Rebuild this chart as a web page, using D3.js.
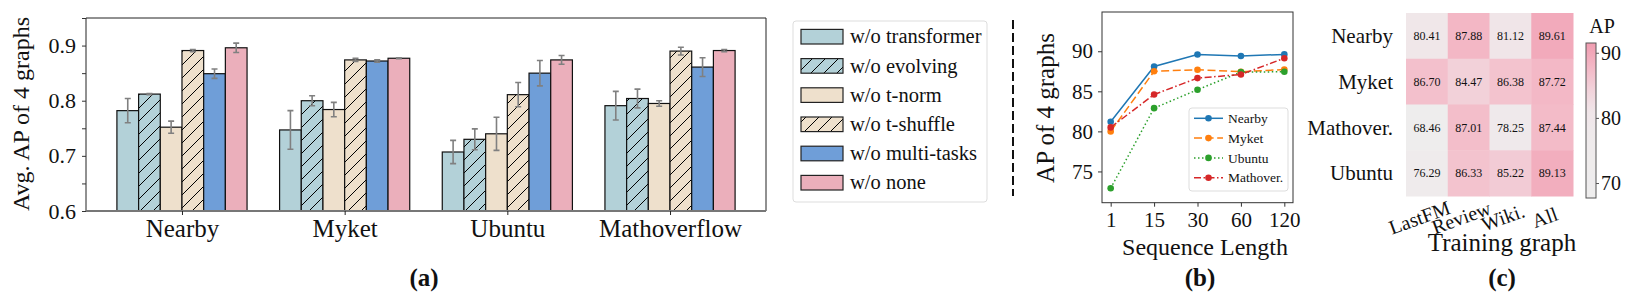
<!DOCTYPE html>
<html>
<head>
<meta charset="utf-8">
<script src="https://cdn.jsdelivr.net/npm/d3@7"></script>
<style>
  body { margin: 0; background: #fff; }
  text { font-family: "Times New Roman", "Liberation Serif", Tinos, serif; fill: #111; }
</style>
</head>
<body>
<svg id="fig" width="1627" height="308"></svg>
<script>
// ---- (a) ablation: avg AP per dataset ----
const datasets = ["Nearby", "Myket", "Ubuntu", "Mathoverflow"];
const variants = ["w/o transformer", "w/o evolving", "w/o t-norm", "w/o t-shuffle", "w/o multi-tasks", "w/o none"];
const apTransformer = [0.782, 0.747, 0.707, 0.791];
const apEvolving    = [0.812, 0.800, 0.730, 0.804];
const apTNorm       = [0.752, 0.784, 0.740, 0.795];
const apTShuffle    = [0.891, 0.874, 0.811, 0.890];
const apMultiTasks  = [0.849, 0.872, 0.850, 0.861];
const apNone        = [0.896, 0.877, 0.874, 0.891];
const errTransformer = [0.022, 0.035, 0.021, 0.026];
const errEvolving    = [0.001, 0.009, 0.019, 0.017];
const errTNorm       = [0.011, 0.013, 0.030, 0.005];
const errTShuffle    = [0.002, 0.003, 0.022, 0.007];
const errMultiTasks  = [0.0085, 0.002, 0.023, 0.017];
const errNone        = [0.0085, 0.001, 0.008, 0.002];
const yTicksA = [0.6, 0.7, 0.8, 0.9];

// ---- (b) sequence length ----
const seqLengths = ["1", "15", "30", "60", "120"];
const seqSeries = ["Nearby", "Myket", "Ubuntu", "Mathover."];
const seqNearby   = [81.2, 88.1, 89.6, 89.4, 89.61];
const seqMyket    = [80.0, 87.5, 87.7, 87.45, 87.72];
const seqUbuntu   = [72.9, 82.9, 85.2, 87.4, 87.44];
const seqMathover = [80.5, 84.6, 86.65, 87.1, 89.13];
const yTicksB = [75, 80, 85, 90];

// ---- (c) training graph heatmap ----
const testGraphs = ["Nearby", "Myket", "Mathover.", "Ubuntu"];
const trainGraphs = ["LastFM", "Review", "Wiki.", "All"];
const hmNearby   = [80.41, 87.88, 81.12, 89.61];
const hmMyket    = [86.70, 84.47, 86.38, 87.72];
const hmMathover = [68.46, 87.01, 78.25, 87.44];
const hmUbuntu   = [76.29, 86.33, 85.22, 89.13];
const cbTicks = [70, 80, 90];

const svg = d3.select("#fig");
const serif = '"Times New Roman", "Liberation Serif", Tinos, serif';

// hatch patterns
const defs = svg.append("defs");
function hatch(id, bg) {
    const p = defs.append("pattern").attr("id", id)
        .attr("patternUnits", "userSpaceOnUse").attr("width", 13).attr("height", 13);
    p.append("rect").attr("width", 13).attr("height", 13).attr("fill", bg);
    p.append("path").attr("d", "M0,13 L13,0 M-3,3 L3,-3 M10,16 L16,10")
        .attr("stroke", "#000").attr("stroke-width", 1);
}
hatch("hatchBlue", "#b3d1d8");
hatch("hatchBeige", "#eee0cc");

// ================= (a) =================
const barVals = [apTransformer, apEvolving, apTNorm, apTShuffle, apMultiTasks, apNone];
const barErrs = [errTransformer, errEvolving, errTNorm, errTShuffle, errMultiTasks, errNone];
const barFill = ["#b3d1d8", "url(#hatchBlue)", "#eee0cc", "url(#hatchBeige)", "#6f9ed8", "#ebafbb"];

const xA = d3.scaleLinear().domain([-0.59, 3.59]).range([86, 766]);
const yA = d3.scaleLinear().domain([0.6, 0.95]).range([211, 18]);
const bw = 0.8 / variants.length;

const gA = svg.append("g");
barVals.forEach((vals, k) => {
    const off = -0.4 + bw * k;
    gA.selectAll(null).data(vals).enter().append("rect")
        .attr("x", (d, i) => xA(i + off))
        .attr("y", d => yA(d))
        .attr("width", xA(bw) - xA(0))
        .attr("height", d => yA(0.6) - yA(d))
        .attr("fill", barFill[k])
        .attr("stroke", "#111").attr("stroke-width", 1.2);
    const cx = i => xA(i + off + bw / 2);
    const errs = barErrs[k];
    gA.selectAll(null).data(vals).enter().append("path")
        .attr("d", (d, i) => {
            const x = cx(i), y0 = yA(d - errs[i]), y1 = yA(d + errs[i]);
            return `M${x},${y0}V${y1}M${x - 3},${y0}H${x + 3}M${x - 3},${y1}H${x + 3}`;
        })
        .attr("stroke", "#808080").attr("stroke-width", 1.6).attr("fill", "none");
});

// frame
gA.append("path").attr("d", `M86,211V18H766V211`).attr("fill", "none").attr("stroke", "#222").attr("stroke-width", 1);
gA.append("line").attr("x1", 86).attr("x2", 766).attr("y1", 211).attr("y2", 211)
    .attr("stroke", "#777").attr("stroke-width", 1.8);

const axA = gA.append("g").attr("transform", "translate(86,0)")
    .call(d3.axisLeft(yA).tickValues(d3.range(0.6, 0.96, 0.05)).tickSize(4).tickPadding(6)
        .tickFormat(d => yTicksA.some(t => Math.abs(t - d) < 1e-6) ? d.toFixed(1) : ""));
axA.select(".domain").remove();
axA.selectAll("line").attr("stroke", "#333");
axA.selectAll("text").attr("font-family", serif).attr("font-size", 22).attr("fill", "#111");

const axAx = gA.append("g").attr("transform", "translate(0,211)")
    .call(d3.axisBottom(xA).tickValues(d3.range(datasets.length)).tickSize(4).tickFormat(i => datasets[i]));
axAx.select(".domain").remove();
axAx.selectAll("line").attr("stroke", "#222");
axAx.selectAll("text").attr("font-family", serif).attr("font-size", 25).attr("fill", "#111")
    .attr("y", 26).attr("dy", null);

gA.append("text").attr("transform", "translate(29,114) rotate(-90)")
    .attr("text-anchor", "middle").attr("font-size", 24).text("Avg. AP of 4 graphs");

// legend (a)
const lgA = svg.append("g");
lgA.append("rect").attr("x", 793).attr("y", 21).attr("width", 194).attr("height", 181)
    .attr("rx", 3).attr("fill", "#fff").attr("stroke", "#ddd");
variants.forEach((v, k) => {
    const cy = 36.7 + k * 29.2;
    lgA.append("rect").attr("x", 801).attr("y", cy - 7.3).attr("width", 42).attr("height", 14.6)
        .attr("fill", barFill[k]).attr("stroke", "#222").attr("stroke-width", 1.2);
    lgA.append("text").attr("x", 850).attr("y", cy).attr("dy", "0.33em")
        .attr("font-size", 20.5).text(v);
});

// dashed separator
svg.append("line").attr("x1", 1013).attr("x2", 1013).attr("y1", 20).attr("y2", 196)
    .attr("stroke", "#111").attr("stroke-width", 2).attr("stroke-dasharray", "9,4");

// ================= (b) =================
const seqVals = [seqNearby, seqMyket, seqUbuntu, seqMathover];
const seqColor = ["#1f77b4", "#ff7f0e", "#2ca02c", "#d62728"];
const seqDash = [null, "8,3.6", "1.5,2.5", "7,2.5,1.5,2.5"];

const xB = d3.scaleLinear().domain([-0.2, 4.2]).range([1102, 1293]);
const yB = d3.scaleLinear().domain([71.1, 94.9]).range([202.7, 12]);
const gB = svg.append("g");

const line = d3.line().x((d, i) => xB(i)).y(d => yB(d));
seqVals.forEach((vals, k) => {
    gB.append("path").datum(vals).attr("d", line)
        .attr("fill", "none").attr("stroke", seqColor[k]).attr("stroke-width", 1.5)
        .attr("stroke-dasharray", seqDash[k]);
    gB.selectAll(null).data(vals).enter().append("circle")
        .attr("cx", (d, i) => xB(i)).attr("cy", d => yB(d)).attr("r", 3.3)
        .attr("fill", seqColor[k]);
});

gB.append("rect").attr("x", 1102).attr("y", 12).attr("width", 191).attr("height", 190.7)
    .attr("fill", "none").attr("stroke", "#333").attr("stroke-width", 1);

const axB = gB.append("g").attr("transform", "translate(1102,0)")
    .call(d3.axisLeft(yB).tickValues(yTicksB).tickSize(4).tickPadding(5));
axB.select(".domain").remove();
axB.selectAll("line").attr("stroke", "#333");
axB.selectAll("text").attr("font-family", serif).attr("font-size", 21).attr("fill", "#111");

const axBx = gB.append("g").attr("transform", "translate(0,202.7)")
    .call(d3.axisBottom(xB).tickValues(d3.range(seqLengths.length)).tickSize(4).tickFormat(i => seqLengths[i]));
axBx.select(".domain").remove();
axBx.selectAll("line").attr("stroke", "#333");
axBx.selectAll("text").attr("font-family", serif).attr("font-size", 21).attr("fill", "#111")
    .attr("y", 24).attr("dy", null);

gB.append("text").attr("x", 1205).attr("y", 255).attr("text-anchor", "middle")
    .attr("font-size", 24).text("Sequence Length");
gB.append("text").attr("transform", "translate(1054,108) rotate(-90)")
    .attr("text-anchor", "middle").attr("font-size", 25).text("AP of 4 graphs");

// legend (b)
const lgB = svg.append("g");
lgB.append("rect").attr("x", 1189).attr("y", 108).attr("width", 99).attr("height", 83)
    .attr("rx", 3).attr("fill", "#fff").attr("fill-opacity", 0.85).attr("stroke", "#ddd");
seqSeries.forEach((s, k) => {
    const cy = 118.3 + k * 19.8;
    lgB.append("line").attr("x1", 1194).attr("x2", 1223).attr("y1", cy).attr("y2", cy)
        .attr("stroke", seqColor[k]).attr("stroke-width", 1.5).attr("stroke-dasharray", seqDash[k]);
    lgB.append("circle").attr("cx", 1208.5).attr("cy", cy).attr("r", 3.3).attr("fill", seqColor[k]);
    lgB.append("text").attr("x", 1228).attr("y", cy).attr("dy", "0.35em")
        .attr("font-size", 13.5).text(s);
});

// ================= (c) =================
const hmRows = [hmNearby, hmMyket, hmMathover, hmUbuntu];
const xC = d3.scaleBand().domain(trainGraphs).range([1406, 1573]);
const yC = d3.scaleBand().domain(testGraphs).range([13, 196]);
const color = d3.scaleLinear()
    .domain([67.7, 76, 81, 84.5, 87.9, 89.6, 91.5])
    .range(["#eeeded", "#efebec", "#f0e6e9", "#f2d1d9", "#f3b7c5", "#f2aabb", "#f09db1"]);

const gC = svg.append("g");
hmRows.forEach((row, r) => {
    gC.selectAll(null).data(row).enter().append("rect")
        .attr("x", (d, c) => xC(trainGraphs[c]))
        .attr("y", yC(testGraphs[r]))
        .attr("width", xC.bandwidth() + 0.5).attr("height", yC.bandwidth() + 0.5)
        .attr("fill", d => color(d));
    gC.selectAll(null).data(row).enter().append("text")
        .attr("x", (d, c) => xC(trainGraphs[c]) + xC.bandwidth() / 2)
        .attr("y", yC(testGraphs[r]) + yC.bandwidth() / 2)
        .attr("dy", "0.35em").attr("text-anchor", "middle")
        .attr("font-size", 12).attr("fill", "#222").text(d => d.toFixed(2));
});

gC.selectAll(null).data(testGraphs).enter().append("text")
    .attr("x", 1393).attr("y", d => yC(d) + yC.bandwidth() / 2).attr("dy", "0.35em")
    .attr("text-anchor", "end").attr("font-size", 21).text(d => d);

gC.selectAll(null).data(trainGraphs).enter().append("text")
    .attr("transform", d => `translate(${xC(d) + xC.bandwidth() / 2 - 5},224) rotate(-20)`)
    .attr("text-anchor", "middle").attr("font-size", 20).text(d => d);

gC.append("text").attr("x", 1502).attr("y", 251).attr("text-anchor", "middle")
    .attr("font-size", 25).text("Training graph");

// colorbar
const yCb = d3.scaleLinear().domain([67.7, 91.5]).range([198, 43]);
const grad = defs.append("linearGradient").attr("id", "cbGrad")
    .attr("x1", 0).attr("y1", 1).attr("x2", 0).attr("y2", 0);
d3.range(0, 1.0001, 0.05).forEach(t => {
    grad.append("stop").attr("offset", t)
        .attr("stop-color", color(67.7 + t * (91.5 - 67.7)));
});
gC.append("rect").attr("x", 1586).attr("y", 43).attr("width", 10).attr("height", 155)
    .attr("fill", "url(#cbGrad)").attr("stroke", "#555").attr("stroke-width", 1);
const axCb = gC.append("g").attr("transform", "translate(1596,0)")
    .call(d3.axisRight(yCb).tickValues(cbTicks).tickSize(3).tickPadding(2));
axCb.select(".domain").remove();
axCb.selectAll("line").attr("stroke", "#555");
axCb.selectAll("text").attr("font-family", serif).attr("font-size", 20).attr("fill", "#111");
gC.append("text").attr("x", 1602).attr("y", 33).attr("text-anchor", "middle")
    .attr("font-size", 20).text("AP");

// ---- panel captions ----
[["(a)", 424], ["(b)", 1200], ["(c)", 1502]].forEach(([t, x]) => {
    svg.append("text").attr("x", x).attr("y", 286).attr("text-anchor", "middle")
        .attr("font-size", 25).attr("font-weight", "bold").text(t);
});
</script>
</body>
</html>
